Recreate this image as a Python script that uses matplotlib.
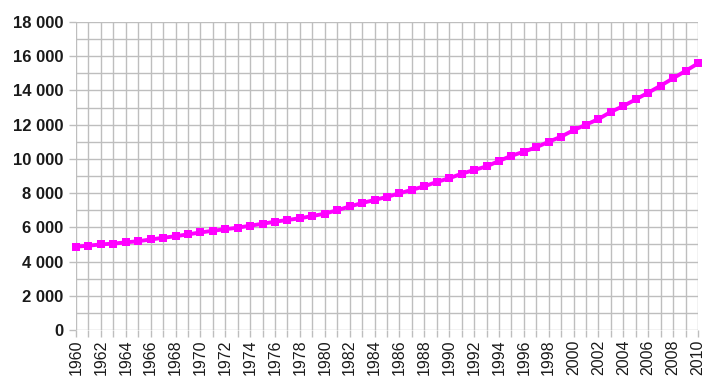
import matplotlib
matplotlib.use("Agg")
import matplotlib.pyplot as plt
from matplotlib.ticker import MultipleLocator, FuncFormatter

years = list(range(1960, 2011))
population = [
    4870, 4930, 5000, 5050, 5120, 5190, 5290, 5390, 5480, 5590,
    5700, 5800, 5890, 5980, 6095, 6210, 6330, 6430, 6530, 6660,
    6800, 7000, 7220, 7420, 7600, 7780, 7990, 8190, 8400, 8650,
    8870, 9130, 9350, 9560, 9880, 10180, 10420, 10680, 11000, 11300,
    11680, 12000, 12330, 12750, 13090, 13480, 13870, 14280, 14710, 15140,
    15580,
]
y_max = 18000

plt.rcParams['font.family'] = ['Liberation Sans', 'DejaVu Sans']

fig = plt.figure(figsize=(7.06, 3.78), dpi=100)
ax = fig.add_axes([76/706, 1 - 330/378, (698-76)/706, (330-22)/378])

ax.plot(years, population, color='#FF00FF', linewidth=2.8, marker='s',
        markersize=5.5, markeredgewidth=0, zorder=3, clip_on=False)

ax.set_xlim(years[0], years[-1])
ax.set_ylim(0, y_max)

ax.xaxis.set_major_locator(MultipleLocator(2))
ax.xaxis.set_minor_locator(MultipleLocator(1))
ax.yaxis.set_major_locator(MultipleLocator(2000))
ax.yaxis.set_minor_locator(MultipleLocator(1000))

ax.yaxis.set_major_formatter(FuncFormatter(lambda v, p: f"{int(v):,}".replace(",", " ")))
ax.xaxis.set_major_formatter(FuncFormatter(lambda v, p: f"{int(v)}"))

ax.grid(True, which='both', axis='both', color='#BEBEBE', linewidth=1.0, zorder=0)
ax.set_axisbelow(True)
for s in ax.spines.values():
    s.set_visible(False)

ax.tick_params(axis='y', which='major', length=5, width=1, color='#BEBEBE',
               pad=4, labelsize=12, labelcolor='#1a1a1a')
ax.tick_params(axis='y', which='minor', length=0)
ax.tick_params(axis='x', which='both', length=5, width=1, color='#BEBEBE',
               pad=2, labelsize=11.5, labelcolor='#1a1a1a', labelrotation=90)
for lbl in ax.get_yticklabels():
    lbl.set_fontweight('bold')

fig.savefig("out.png", dpi=100, facecolor='white')
